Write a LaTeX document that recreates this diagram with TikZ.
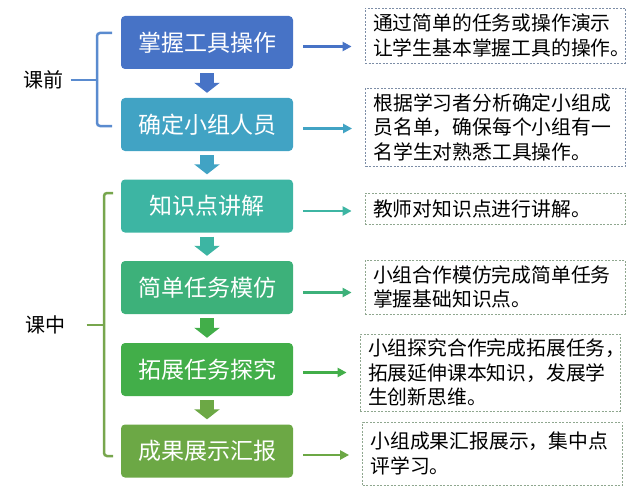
\documentclass[tikz,border=0pt]{standalone}
\usepackage{fontspec}
\setmainfont{Noto Sans CJK SC}
\usetikzlibrary{arrows.meta}

\definecolor{cA}{HTML}{4773C6}
\definecolor{cB}{HTML}{41A3C4}
\definecolor{cC}{HTML}{3DB5A3}
\definecolor{cD}{HTML}{3DB17A}
\definecolor{cE}{HTML}{42AE49}
\definecolor{cF}{HTML}{6CA845}
\definecolor{bluebr}{HTML}{5A8BCF}
\definecolor{greenbr}{HTML}{77A64D}
\definecolor{dashA}{HTML}{7C8DA6}
\definecolor{dashB}{HTML}{8FA78F}

\begin{document}
\begin{tikzpicture}[x=1pt,y=-1pt,
	stage/.style={fill=#1,rounded corners=4pt,minimum width=172pt,minimum height=53pt,inner sep=0pt,text=white,font=\fontsize{23}{23}\selectfont},
	desc/.style={draw=#1,dash pattern=on 2pt off 1.5pt,line width=0.8pt,minimum width=260pt,inner xsep=8pt,inner ysep=0pt,text width=244pt,align=left,font=\fontsize{19.8}{24.5}\selectfont},
	downarr/.style={draw=#1,line width=14pt,-{Triangle[width=25pt,length=10pt]},shorten <=4pt,shorten >=5pt},
	rightarr/.style={draw=#1,line width=2.8pt,-{Triangle[width=9pt,length=9pt]},shorten <=10pt,shorten >=13pt},
	brace/.style={draw=#1,line width=2.5pt,rounded corners=3pt}]
\useasboundingbox (0,0) rectangle (631,492);

\path (207,42.5) node[stage=cA] (zw) {掌握工具操作}
		(207,124.5) node[stage=cB] (qd) {确定小组人员}
		(207,206) node[stage=cC] (zs) {知识点讲解}
		(207,287.5) node[stage=cD] (jd) {简单任务模仿}
		(207,369.5) node[stage=cE] (tz) {拓展任务探究}
		(207,451) node[stage=cF] (cg) {成果展示汇报}
		(495,35.5) node[desc=dashA,minimum height=55pt] (zw-) {通过简单的任务或操作演示\\让学生基本掌握工具的操作。}
		(495.5,127) node[desc=dashA,minimum height=78pt] (qd-) {根据学习者分析确定小组成\\员名单，确保每个小组有一\\名学生对熟悉工具操作。}
		(495,208.5) node[desc=dashB,minimum height=31pt] (zs-) {教师对知识点进行讲解。}
		(495,287) node[desc=dashB,minimum height=54pt] (jd-) {小组合作模仿完成简单任务\\掌握基础知识点。}
		(490,372.5) node[desc=dashB,minimum height=77pt] (tz-) {小组探究合作完成拓展任务，\\拓展延伸课本知识，发展学\\生创新思维。}
		(492.5,453.5) node[desc=dashB,minimum height=63pt] (cg-) {小组成果汇报展示，集中点\\评学习。}
		(43,80) node[font=\fontsize{20}{20}\selectfont] (kq) {课前}
		(45,325) node[font=\fontsize{20}{20}\selectfont] (kz) {课中}
		;

\draw[downarr=cA] (node cs:name=zw) -- (node cs:name=qd);
\draw[downarr=cB] (node cs:name=qd) -- (node cs:name=zs);
\draw[downarr=cC] (node cs:name=zs) -- (node cs:name=jd);
\draw[downarr=cE] (node cs:name=jd) -- (node cs:name=tz);
\draw[downarr=cF] (node cs:name=tz) -- (node cs:name=cg);

\draw[rightarr=cA] ([yshift=-4pt]zw.east) -- ([yshift=-4pt]zw.east -| zw-.west);
\draw[rightarr=cB] ([yshift=-4pt]qd.east) -- ([yshift=-4pt]qd.east -| qd-.west);
\draw[rightarr=cC] ([yshift=-5pt]zs.east) -- ([yshift=-5pt]zs.east -| zs-.west);
\draw[rightarr=cD] ([yshift=-5pt]jd.east) -- ([yshift=-5pt]jd.east -| jd-.west);
\draw[rightarr=cE] ([yshift=-3pt]tz.east) -- ([yshift=-3pt]tz.east -| tz-.west);
\draw[rightarr=cF] ([yshift=-4pt]cg.east) -- ([yshift=-4pt]cg.east -| cg-.west);

\draw[brace=bluebr] (112,33) -- (97,33) -- (97,126) -- (112,126);
\draw[brace=bluebr] (kq.east) ++(4,0) -- (97,80);
\draw[brace=greenbr] (113,193) -- (104,193) -- (104,456) -- (113,456);
\draw[brace=greenbr] (kz.east) ++(18,0) -- (104,325);
\end{tikzpicture}
\end{document}
